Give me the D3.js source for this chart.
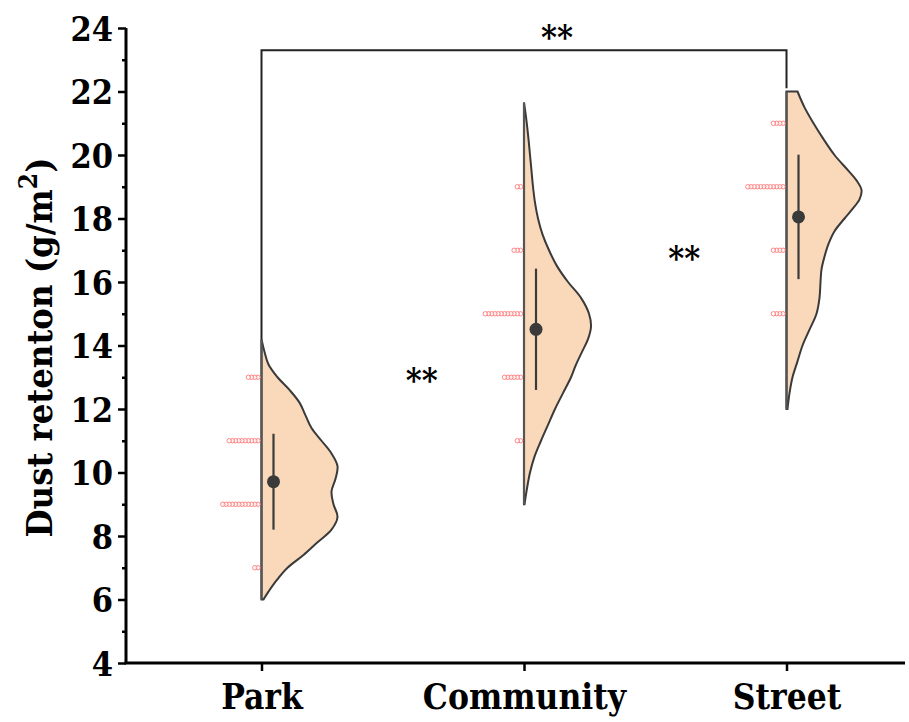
<!DOCTYPE html>
<html>
<head>
<meta charset="utf-8">
<script src="https://cdn.jsdelivr.net/npm/d3@7"></script>
<style>
  html, body { margin: 0; padding: 0; background: #fff; }
  svg { display: block; }
  text { font-family: "DejaVu Serif Condensed", "DejaVu Serif", serif; font-stretch: condensed; font-weight: bold; fill: #000; }
</style>
</head>
<body>
<svg id="chart" width="909" height="722"></svg>
<script>
// ---------- data ----------
const categories = ["Park", "Community", "Street"];
const yTicks = [4, 6, 8, 10, 12, 14, 16, 18, 20, 22, 24];
const yMinorTicks = [5, 7, 9, 11, 13, 15, 17, 19, 21, 23];

// binned raw observations (dot rows)
const parkBins = [13, 11, 9, 7];
const parkCounts = [4, 10, 12, 2];
const communityBins = [19, 17, 15, 13, 11];
const communityCounts = [2, 3, 12, 6, 2];
const streetBins = [21, 19, 17, 15];
const streetCounts = [4, 12, 4, 4];

// mean and standard deviation
const means = [9.71, 14.51, 18.05];
const sds = [1.51, 1.91, 1.96];

// half-violin density profiles: [value, density]
const parkDensity = [
  [14.2, 0.00], [13.8, 0.03], [13.4, 0.07], [13.0, 0.16], [12.6, 0.28], [12.2, 0.38],
  [11.8, 0.44], [11.4, 0.50], [11.0, 0.60], [10.6, 0.70], [10.2, 0.76], [9.8, 0.74],
  [9.4, 0.70], [9.0, 0.72], [8.6, 0.76], [8.2, 0.70], [7.8, 0.56], [7.4, 0.42],
  [7.0, 0.26], [6.6, 0.15], [6.2, 0.06], [6.0, 0.02]
];
const communityDensity = [
  [21.65, 0.00], [21.2, 0.02], [20.5, 0.045], [20.0, 0.06], [19.5, 0.075], [19.0, 0.09],
  [18.5, 0.11], [18.0, 0.14], [17.5, 0.185], [17.0, 0.25], [16.5, 0.33], [16.0, 0.44],
  [15.5, 0.57], [15.0, 0.65], [14.6, 0.67], [14.2, 0.64], [13.8, 0.58], [13.4, 0.52],
  [13.0, 0.47], [12.5, 0.39], [12.0, 0.31], [11.5, 0.24], [11.0, 0.17], [10.5, 0.105],
  [10.0, 0.06], [9.5, 0.03], [9.0, 0.005]
];
const streetDensity = [
  [22.0, 0.11], [21.5, 0.18], [21.0, 0.27], [20.5, 0.37], [20.0, 0.48], [19.5, 0.62],
  [19.2, 0.70], [18.9, 0.75], [18.6, 0.73], [18.3, 0.66], [18.0, 0.58], [17.6, 0.48],
  [17.2, 0.42], [16.8, 0.38], [16.4, 0.35], [16.0, 0.34], [15.5, 0.33], [15.0, 0.30],
  [14.5, 0.23], [14.0, 0.16], [13.5, 0.11], [13.0, 0.06], [12.5, 0.03], [12.0, 0.01]
];

// significance annotations
const sigPairs = [
  { label: "**", a: 0, b: 2, bracket: true, level: 23.3, legA: 14.2, legB: 22.1 },
  { label: "**", a: 0, b: 1, bracket: false, level: 13.0 },
  { label: "**", a: 1, b: 2, bracket: false, level: 16.85 }
];

// ---------- layout ----------
const groups = [
  { bins: parkBins, counts: parkCounts, density: parkDensity },
  { bins: communityBins, counts: communityCounts, density: communityDensity },
  { bins: streetBins, counts: streetCounts, density: streetDensity }
];

const svg = d3.select("#chart");
const plot = { left: 126, right: 905, top: 28, bottom: 663 };

const x = d3.scaleLinear().domain([0.4838, 3.4514]).range([plot.left, plot.right]);
const y = d3.scaleLinear().domain([4, 24]).range([plot.bottom, plot.top]);
const w = d3.scaleLinear().domain([0, 1]).range([0, 100]);

const violinFill = "#fad9bb";
const dark = "#3a3a3a";
const FONT = "'DejaVu Serif Condensed', 'DejaVu Serif', serif";

// violins
groups.forEach((g, i) => {
  const cx = x(i + 1);
  const area = d3.area()
    .x0(cx)
    .x1(d => cx + w(d[1]))
    .y(d => y(d[0]))
    .curve(d3.curveCatmullRom.alpha(0.5));
  svg.append("path")
    .datum(g.density)
    .attr("d", area)
    .attr("fill", violinFill)
    .attr("stroke", dark)
    .attr("stroke-width", 2);
  svg.append("line")
    .attr("x1", cx).attr("x2", cx)
    .attr("y1", y(g.density[0][0])).attr("y2", y(g.density[g.density.length - 1][0]))
    .attr("stroke", "#555").attr("stroke-width", 2.2);
});

// dots
groups.forEach((g, i) => {
  const cx = x(i + 1);
  g.bins.forEach((b, k) => {
    d3.range(g.counts[k]).forEach(j => {
      svg.append("circle")
        .attr("cx", cx - 3.5 - j * 3.2)
        .attr("cy", y(b))
        .attr("r", 2.2)
        .attr("fill", "#fff")
        .attr("fill-opacity", 0.6)
        .attr("stroke", "#ff7878")
        .attr("stroke-width", 0.9);
    });
  });
});

// mean +/- sd
means.forEach((m, i) => {
  const cx = x(i + 1) + 12;
  svg.append("line")
    .attr("x1", cx).attr("x2", cx)
    .attr("y1", y(m - sds[i])).attr("y2", y(m + sds[i]))
    .attr("stroke", dark).attr("stroke-width", 2.2);
  svg.append("circle")
    .attr("cx", cx).attr("cy", y(m)).attr("r", 6.5)
    .attr("fill", dark);
});

// axes
const yAxis = svg.append("g")
  .attr("transform", `translate(${plot.left},0)`)
  .call(d3.axisLeft(y).tickValues(yTicks).tickSize(8).tickPadding(5).tickFormat(d3.format("d")));
const yMinor = svg.append("g")
  .attr("transform", `translate(${plot.left},0)`)
  .call(d3.axisLeft(y).tickValues(yMinorTicks).tickSize(4).tickFormat(""));
yMinor.select(".domain").remove();

const xAxis = svg.append("g")
  .attr("transform", `translate(0,${plot.bottom})`)
  .call(d3.axisBottom(x).tickValues([1, 2, 3]).tickSize(8).tickPadding(10)
    .tickFormat(d => categories[d - 1]));

[yAxis, yMinor, xAxis].forEach(a => {
  a.selectAll(".domain").attr("stroke", "#000").attr("stroke-width", 3);
  a.selectAll(".tick line").attr("stroke", "#000").attr("stroke-width", 2.5);
});
yAxis.selectAll(".domain").attr("d", `M0,${plot.top}V${plot.bottom}`);
xAxis.selectAll(".domain").attr("d", `M${plot.left - 1.5},0H${plot.right}`);
yAxis.selectAll(".tick text").attr("font-size", 34).attr("dy", "0.36em")
  .style("font-family", FONT).style("font-weight", "bold");
xAxis.selectAll(".tick text").attr("font-size", 35).attr("dy", "0.8em")
  .style("font-family", FONT).style("font-weight", "bold");

// y title
const yt = svg.append("text")
  .attr("transform", `translate(52,${(plot.top + plot.bottom) / 2 + 2}) rotate(-90)`)
  .attr("text-anchor", "middle")
  .attr("font-size", 36);
yt.append("tspan").text("Dust retenton (g/m");
yt.append("tspan").attr("dy", -15).attr("font-size", 26).text("2");
yt.append("tspan").attr("dy", 15).text(")");

// significance
sigPairs.forEach(s => {
  if (s.bracket) {
    const xa = x(s.a + 1), xb = x(s.b + 1), yl = y(s.level);
    svg.append("path")
      .attr("d", `M${xa},${y(s.legA)}V${yl}H${xb}V${y(s.legB)}`)
      .attr("fill", "none").attr("stroke", "#222").attr("stroke-width", 2);
    svg.append("text")
      .attr("x", (xa + xb) / 2 + 33).attr("y", yl - 1)
      .attr("text-anchor", "middle").attr("font-size", 34)
      .text(s.label);
  } else {
    svg.append("text")
      .attr("x", (x(s.a + 1) + x(s.b + 1)) / 2 + 29).attr("y", y(s.level) + 15)
      .attr("text-anchor", "middle").attr("font-size", 34)
      .text(s.label);
  }
});
</script>
</body>
</html>
